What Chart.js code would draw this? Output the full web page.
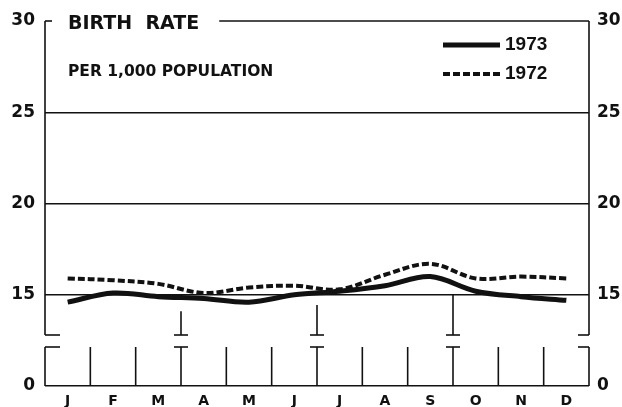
<!DOCTYPE html>
<html>
<head>
<meta charset="utf-8">
<script src="https://cdn.jsdelivr.net/npm/chart.js@4/dist/chart.umd.min.js"></script>
<style>
  html, body { margin: 0; padding: 0; background: #fff; }
</style>
</head>
<body>
<canvas id="birthChart" width="622" height="407"></canvas>
<script>
// monthly birth rate, per 1,000 population
const months = ['J', 'F', 'M', 'A', 'M', 'J', 'J', 'A', 'S', 'O', 'N', 'D'];
const rate1973 = [14.6, 15.1, 14.9, 14.8, 14.6, 15.0, 15.2, 15.5, 16.0, 15.2, 14.9, 14.7];
const rate1972 = [15.9, 15.8, 15.6, 15.1, 15.4, 15.5, 15.3, 16.1, 16.7, 15.9, 16.0, 15.9];
const upperTicks = [15, 20, 25, 30];
const lowerTicks = [0];

const INK = '#111';
const FONT = '"DejaVu Sans", sans-serif';

// broken axis: upper part 12.8-30, lower part just the zero line
const tickFont = { family: FONT, size: 17, weight: 'bold' };
const fixTicks = (list) => (s) => { s.ticks = list.map(v => ({ value: v })); };

const yAxis = (pos, stack, weight, min, max, list, grid) => ({
    position: pos,
    stack: stack,
    stackWeight: weight,
    min: min,
    max: max,
    afterBuildTicks: fixTicks(list),
    afterFit: (s) => { s.width = pos === 'left' ? 45 : 33; },
    border: { display: false },
    grid: grid ? {
        drawTicks: false,
        lineWidth: 1.5,
        color: (c) => (c.tick && c.tick.value === 30) ? 'rgba(0,0,0,0)' : INK
    } : { display: false, drawTicks: false },
    ticks: { color: INK, font: tickFont, padding: pos === 'left' ? 10 : 8 }
});

const framePlugin = {
    id: 'frame',
    afterDraw(chart) {
        const ctx = chart.ctx;
        const up = chart.scales.y, low = chart.scales.yLow, x = chart.scales.x;
        const L = chart.chartArea.left, R = chart.chartArea.right;
        const top = up.top, brk = up.bottom, lowTop = low.top + 12, base = low.bottom;
        const seg = (x1, y1, x2, y2) => { ctx.beginPath(); ctx.moveTo(x1, y1); ctx.lineTo(x2, y2); ctx.stroke(); };

        ctx.save();
        ctx.fillStyle = INK;
        ctx.strokeStyle = INK;
        ctx.lineWidth = 1.6;

        // title
        ctx.textBaseline = 'alphabetic';
        ctx.font = 'bold 19px ' + FONT;
        ctx.fillText('BIRTH  RATE', 68, 29);
        const titleEnd = 68 + ctx.measureText('BIRTH  RATE').width;
        ctx.font = 'bold 15.5px ' + FONT;
        ctx.fillText('PER 1,000 POPULATION', 68, 76);

        // frame, top line broken by the title
        seg(L, top, L + 7, top);
        seg(titleEnd + 20, top, R, top);
        seg(L, top, L, brk); seg(L, brk, L + 15, brk);
        seg(L, lowTop, L + 15, lowTop); seg(L, lowTop, L, base);
        seg(R, top, R, brk); seg(R - 11, brk, R, brk);
        seg(R - 11, lowTop, R, lowTop); seg(R, lowTop, R, base);

        // month dividers in the lower strip
        const mid = (i) => (x.getPixelForValue(i) + x.getPixelForValue(i + 1)) / 2;
        for (let i = 0; i < months.length - 1; i++) seg(mid(i), lowTop, mid(i), base);

        // quarter marks
        const quarterStart = [14.1, 14.45, 15];
        [2, 5, 8].forEach((i, k) => {
            const px = mid(i);
            seg(px, up.getPixelForValue(quarterStart[k]), px, brk);
            seg(px - 7, brk, px + 7, brk);
            seg(px - 7, lowTop, px + 7, lowTop);
        });

        // legend
        ctx.font = 'bold 19px "Liberation Sans", sans-serif';
        ctx.textBaseline = 'middle';
        chart.data.datasets.forEach((ds, k) => {
            const ly = 45 + k * 29;
            ctx.lineWidth = ds.borderWidth;
            ctx.setLineDash(ds.borderDash || []);
            seg(443, ly, 500, ly);
            ctx.setLineDash([]);
            ctx.fillText(ds.label, 505, ly);
        });
        ctx.restore();
    }
};

new Chart(document.getElementById('birthChart'), {
    type: 'line',
    data: {
        labels: months,
        datasets: [
            {
                label: '1973',
                data: rate1973,
                yAxisID: 'y',
                borderColor: INK,
                borderWidth: 5,
                pointRadius: 0,
                tension: 0.35
            },
            {
                label: '1972',
                data: rate1972,
                yAxisID: 'y',
                borderColor: INK,
                borderWidth: 4,
                borderDash: [7, 3],
                pointRadius: 0,
                tension: 0.35
            }
        ]
    },
    options: {
        responsive: false,
        animation: false,
        layout: { padding: { top: 21, left: 0, right: 0, bottom: 0 } },
        plugins: { legend: { display: false }, tooltip: { enabled: false } },
        scales: {
            x: {
                type: 'category',
                offset: true,
                grid: { display: false, drawTicks: false },
                border: { display: false },
                afterFit: (s) => { s.height = 21; },
                ticks: {
                    color: INK,
                    font: { family: FONT, size: 14, weight: 'bold' },
                    padding: 7,
                    maxRotation: 0,
                    autoSkip: false
                }
            },
            // left boxes are laid out in reverse order, so the lower part comes first here
            yLow: yAxis('left', 'left', 51, 0, 1, lowerTicks, true),
            y: yAxis('left', 'left', 314, 12.8, 30, upperTicks, true),
            yR: yAxis('right', 'right', 314, 12.8, 30, upperTicks, false),
            yLowR: yAxis('right', 'right', 51, 0, 1, lowerTicks, false)
        }
    },
    plugins: [framePlugin]
});
</script>
</body>
</html>
